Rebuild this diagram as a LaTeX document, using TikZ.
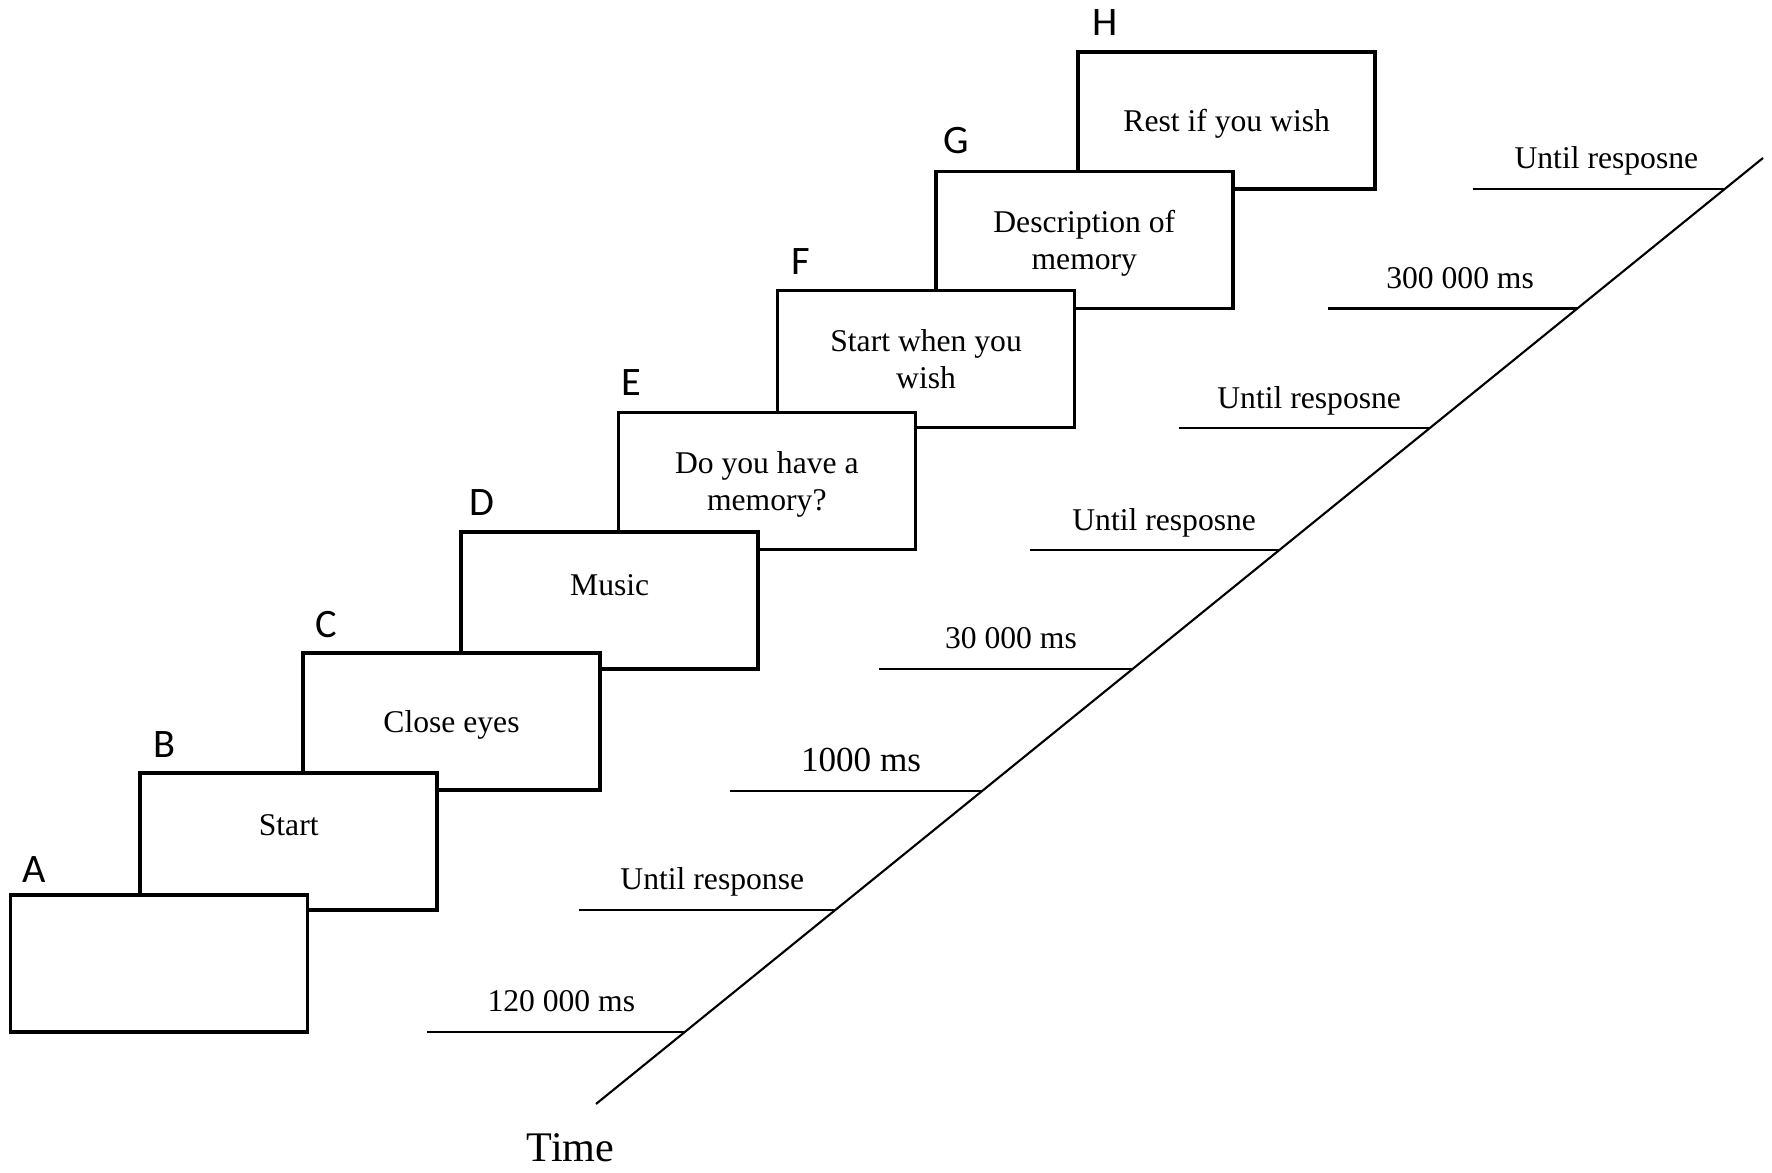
\documentclass[tikz,border=0pt]{standalone}
\usepackage{fontspec}
\setmainfont{Liberation Serif}
\newfontfamily\tagfont{Carlito}
\usepackage{tikz}
\usetikzlibrary{positioning,calc}

\tikzset{
  screen/.style={draw, line width=1pt, fill=white, minimum width=2.97cm, minimum height=1.37cm, inner sep=0pt, align=center, text depth=-3pt, font=\fontsize{9}{10.5}\selectfont},
  lifted/.style={text depth=0.32cm},
  tag/.style={inner sep=0pt, font=\tagfont\fontsize{11.5}{12}\selectfont},
  tick/.style={line width=0.6pt},
  dur/.style={pos=0.52, above=5.4pt, inner sep=0pt, text depth=0pt, font=\fontsize{9}{10}\selectfont},
}

\begin{document}
\begin{tikzpicture}
\useasboundingbox (0,0) rectangle (17.72,11.73);

% Screens (last one first, so that earlier screens lie on top)
\node[screen] (rest) at (12.267,10.526) {Rest if you wish};
\node[screen] (descr) at (10.843,9.328) {Description of\\memory};
\node[screen] (when) at (9.261,8.142) {Start when you\\wish};
\node[screen] (mem) at (7.668,6.921) {Do you have a\\memory?};
\node[screen, lifted] (music) at (6.097,5.723) {Music};
\node[screen] (close) at (4.515,4.514) {Close eyes};
\node[screen, lifted] (start) at (2.887,3.316) {Start};
\node[screen] (blank) at (1.588,2.096) {};

% Screen letters
\node[tag, above right=0.10cm and 0.13cm of blank.north west] (tagA) {A};
\node[tag, above right=0.13cm and 0.14cm of start.north west] (tagB) {B};
\node[tag, above right=0.13cm and 0.14cm of close.north west] (tagC) {C};
\node[tag, above right=0.14cm and 0.09cm of music.north west] (tagD) {D};
\node[tag, above right=0.14cm and 0.04cm of mem.north west] (tagE) {E};
\node[tag, above right=0.13cm and 0.15cm of when.north west] (tagF) {F};
\node[tag, above right=0.15cm and 0.09cm of descr.north west] (tagG) {G};
\node[tag, above right=0.14cm and 0.15cm of rest.north west] (tagH) {H};

% Time axis
\coordinate (t0) at (5.96,0.69);
\coordinate (t1) at (17.63,10.15);
\draw[tick] (t0) -- (t1);
\node[anchor=base, inner sep=0pt, font=\fontsize{12}{12}\selectfont] (time) at (5.705,0.11) {Time};

% Durations
\draw[tick] (4.272,1.412) -- node[dur] {120 000 ms} (6.851,1.412);
\draw[tick] (5.786,2.633) -- node[dur] {Until response} (8.357,2.633);
\draw[tick] (7.300,3.819) -- node[dur, font=\fontsize{10}{11}\selectfont] {1000 ms} (9.820,3.819);
\draw[tick] (8.792,5.040) -- node[dur] {30 000 ms} (11.326,5.040);
\draw[tick] (10.295,6.226) -- node[dur, pos=0.54] {Until resposne} (12.789,6.226);
\draw[tick] (11.787,7.447) -- node[dur] {Until resposne} (14.296,7.447);
\draw[tick] (13.279,8.645) -- node[dur, pos=0.53] {300 000 ms} (15.773,8.645);
\draw[tick] (14.725,9.843) -- node[dur, pos=0.53] {Until resposne} (17.251,9.843);

\end{tikzpicture}
\end{document}
